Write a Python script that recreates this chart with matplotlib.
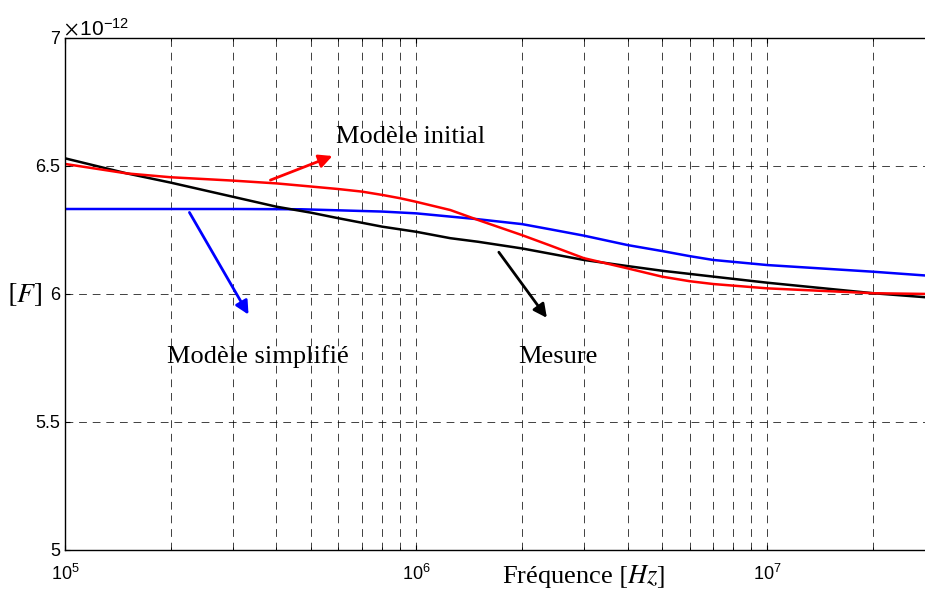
import numpy as np
import matplotlib
matplotlib.use('Agg')
import matplotlib.pyplot as plt
from matplotlib.ticker import FuncFormatter

plt.rcParams['font.family'] = 'Liberation Sans'
plt.rcParams['mathtext.fontset'] = 'stix'

# values, capacitance in pF (x 1e-12 F)
f_mesure = [1e5, 1.5e5, 2e5, 3e5, 4e5, 5e5, 6e5, 8e5, 1e6, 1.25e6, 1.5e6, 2e6, 3e6,
            4e6, 5e6, 7e6, 1e7, 2e7, 2.9e7]
c_mesure = [6.53, 6.471, 6.435, 6.38, 6.341, 6.318, 6.296, 6.263, 6.243, 6.218, 6.204,
            6.178, 6.133, 6.109, 6.091, 6.068, 6.044, 6.003, 5.986]

f_initial = [1e5, 1.5e5, 2e5, 3e5, 4e5, 5e5, 6e5, 7e5, 8e5, 9e5, 1e6, 1.25e6, 1.5e6,
             2e6, 2.4e6, 3e6, 4e6, 5e6, 6e6, 7e6, 1e7, 2e7, 2.9e7]
c_initial = [6.508, 6.471, 6.456, 6.443, 6.432, 6.42, 6.41, 6.40, 6.387, 6.374, 6.36,
             6.328, 6.289, 6.23, 6.19, 6.14, 6.10, 6.068, 6.05, 6.039, 6.022, 6.003, 6.0]

f_simple = [1e5, 3e5, 4.7e5, 8e5, 1e6, 1.5e6, 2e6, 2.4e6, 3e6, 4e6, 5e6, 6e6, 7e6,
            1e7, 2e7, 2.9e7]
c_simple = [6.332, 6.332, 6.331, 6.322, 6.315, 6.292, 6.273, 6.253, 6.228, 6.191, 6.168,
            6.148, 6.133, 6.113, 6.087, 6.071]

fig = plt.figure(figsize=(9.25, 5.9), dpi=100)
ax = fig.add_axes([0.0703, 0.0678, 0.935, 0.8678])

ax.semilogx(f_simple, c_simple, color='blue', lw=1.8)
ax.semilogx(f_mesure, c_mesure, color='black', lw=1.8)
ax.semilogx(f_initial, c_initial, color='red', lw=1.8)

ax.set_xlim(1e5, 2.9e7)
ax.set_ylim(5, 7)
ax.set_yticks([5, 5.5, 6, 6.5, 7])
ax.yaxis.set_major_formatter(FuncFormatter(lambda v, p: '%g' % v))

ax.grid(True, which='major', color='black', ls=(0, (8, 6)), lw=0.7, alpha=0.75)
ax.grid(True, which='minor', axis='x', color='black', ls=(0, (8, 6)), lw=0.7, alpha=0.75)
ax.tick_params(which='both', direction='in', top=True, right=True, labelsize=13)
ax.tick_params(axis='x', pad=10)
for s in ax.spines.values():
    s.set_linewidth(1.0)

fig.text(64 / 925, 1 - 35 / 590, r'$\times\,\mathregular{10^{-12}}$', fontsize=15,
         ha='left', va='baseline', family='Liberation Sans')

fig.text(584 / 925, 1 - 577 / 590, r'Fréquence $[Hz]$', family='Liberation Serif',
         fontsize=19, ha='center', va='center')
fig.text(25 / 925, 1 - 295 / 590, r'$[F]$', fontsize=20, ha='center', va='center')

serif = dict(family='Liberation Serif', fontsize=19, va='center', ha='left')
ax.annotate('', xy=(5.87e5, 6.543), xytext=(3.78e5, 6.441),
            arrowprops=dict(arrowstyle='-|>', color='red', lw=2, mutation_scale=20))
ax.text(5.92e5, 6.613, 'Modèle initial', **serif)
ax.annotate('', xy=(3.36e5, 5.91), xytext=(2.24e5, 6.328),
            arrowprops=dict(arrowstyle='-|>', color='blue', lw=2, mutation_scale=20))
ax.text(1.95e5, 5.754, 'Modèle simplifié', **serif)
ax.annotate('', xy=(2.38e6, 5.898), xytext=(1.70e6, 6.172),
            arrowprops=dict(arrowstyle='-|>', color='black', lw=2, mutation_scale=20))
ax.text(1.95e6, 5.754, 'Mesure', **serif)

fig.savefig('out.png', dpi=100)
